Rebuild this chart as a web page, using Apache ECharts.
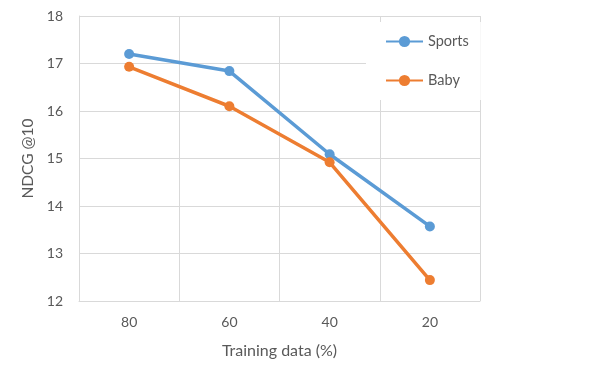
<!DOCTYPE html>
<html>
<head>
<meta charset="utf-8">
<script src="https://cdn.jsdelivr.net/npm/echarts@6/dist/echarts.min.js"></script>
<style>html,body{margin:0;padding:0;background:#fff}#c{width:598px;height:376px}</style>
</head>
<body>
<div id="c"></div>
<script>
const categories = ['80', '60', '40', '20'];
const sports = [17.2, 16.84, 15.09, 13.57];
const baby = [16.93, 16.1, 14.92, 12.44];
const yTicks = [12, 13, 14, 15, 16, 17, 18];

const font = 'Lato, "Open Sans", sans-serif';
const grey = '#595959';
const gridColor = '#d9d9d9';

const chart = echarts.init(document.getElementById('c'));
chart.setOption({
  animation: false,
  backgroundColor: '#fff',
  grid: { left: 79, right: 118, top: 16, bottom: 75, containLabel: false },
  xAxis: {
    type: 'category',
    data: categories,
    boundaryGap: true,
    name: 'Training data (%)',
    nameLocation: 'middle',
    nameGap: 42,
    nameTextStyle: { color: grey, fontSize: 16, fontFamily: font },
    axisLine: { show: true, lineStyle: { color: gridColor, width: 1 } },
    axisTick: { show: false },
    axisLabel: { color: grey, fontSize: 14, fontFamily: font, margin: 14 },
    splitLine: { show: true, lineStyle: { color: gridColor, width: 1 } }
  },
  yAxis: {
    type: 'value',
    min: yTicks[0],
    max: yTicks[yTicks.length - 1],
    interval: 1,
    name: 'NDCG @10',
    nameLocation: 'middle',
    nameGap: 35,
    nameTextStyle: { color: grey, fontSize: 15.5, fontFamily: font },
    axisLine: { show: true, lineStyle: { color: gridColor, width: 1 } },
    axisTick: { show: false },
    axisLabel: { color: grey, fontSize: 14, fontFamily: font, margin: 16 },
    splitLine: { show: true, lineStyle: { color: gridColor, width: 1 } }
  },
  legend: {
    orient: 'vertical',
    left: 366,
    top: 22,
    padding: [12, 12, 12, 19],
    itemGap: 24,
    itemWidth: 37,
    itemHeight: 14,
    backgroundColor: '#fff',
    textStyle: { color: grey, fontSize: 14.5, fontFamily: font },
    data: ['Sports', 'Baby']
  },
  series: [
    {
      name: 'Sports', type: 'line', data: sports,
      symbol: 'circle', symbolSize: 10,
      lineStyle: { color: '#5B9BD5', width: 3.5 },
      itemStyle: { color: '#5B9BD5' }
    },
    {
      name: 'Baby', type: 'line', data: baby,
      symbol: 'circle', symbolSize: 10,
      lineStyle: { color: '#ED7D31', width: 3.5 },
      itemStyle: { color: '#ED7D31' }
    }
  ]
});
</script>
</body>
</html>
